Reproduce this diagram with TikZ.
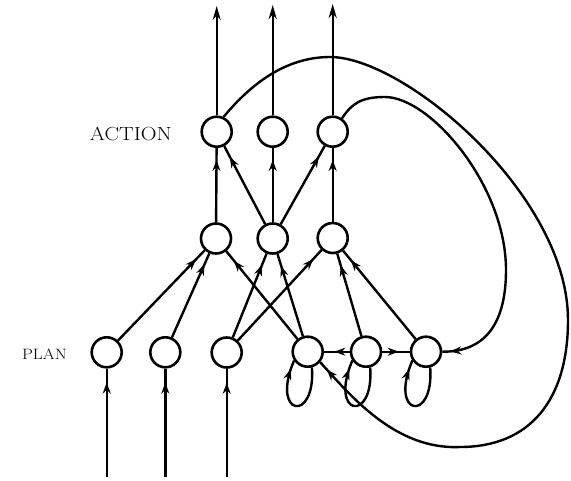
\documentclass[tikz,border=0pt]{standalone}
\usepackage{fontspec}
\usetikzlibrary{arrows.meta,decorations.markings}
\begin{document}
\tikzset{
  unit/.style={circle, draw, line width=2.6pt, minimum size=30pt, inner sep=0pt},
  wire/.style={line width=2.4pt},
  tipnear/.style={wire, postaction={decorate},
    decoration={markings, mark=at position #1 with {\arrow{Stealth[length=11pt,width=8pt]}}}},
  tipnear/.default=-12pt,
  outarrow/.style={wire, -{Stealth[length=14pt,width=8pt]}},
  lbl/.style={anchor=base east, inner sep=0pt}
}
\begin{tikzpicture}[x=1pt,y=-1pt]
\useasboundingbox (0,0) rectangle (571,480);

% action layer
\node[unit] (a1) at (216.7,131.7) {};
\node[unit] (a2) at (272.7,131.7) {};
\node[unit] (a3) at (332.7,131.7) {};
% hidden layer
\node[unit] (h1) at (216,238.5) {};
\node[unit] (h2) at (272.7,238.5) {};
\node[unit] (h3) at (332.7,238) {};
% plan units
\node[unit] (p1) at (106.7,352.3) {};
\node[unit] (p2) at (165.3,352.3) {};
\node[unit] (p3) at (226.7,352.5) {};
% state units
\node[unit] (s1) at (307.7,351.7) {};
\node[unit] (s2) at (366,351.7) {};
\node[unit] (s3) at (426,351.7) {};

% labels
\node[lbl, font=\fontsize{19}{19}\selectfont, xscale=1.15] (actlbl) at (172,140.5) {ACTION};
\node[lbl, font=\fontsize{15}{15}\selectfont, xscale=1.15] (planlbl) at (67,359.5) {PLAN};

% outputs
\coordinate (o1) at (216.7,6);
\coordinate (o2) at (272.7,5);
\coordinate (o3) at (332.7,4);
\draw[outarrow] (a1) -- (o1);
\draw[outarrow] (a2) -- (o2);
\draw[outarrow] (a3) -- (o3);

% plan inputs
\coordinate (i1) at (106.7,477);
\coordinate (i2) at (165.3,477);
\coordinate (i3) at (226.7,477);
\draw[tipnear=-14pt] (i1) -- (p1);
\draw[tipnear=-14pt] (i2) -- (p2);
\draw[tipnear=-14pt] (i3) -- (p3);

% hidden to action
\draw[tipnear] (h1) -- (a1);
\draw[tipnear] (h2) -- (a1);
\draw[tipnear] (h2) -- (a2);
\draw[tipnear] (h2) -- (a3);
\draw[tipnear] (h3) -- (a3);

% plan and state to hidden
\draw[tipnear] (p1) -- (h1);
\draw[tipnear] (p2) -- (h1);
\draw[tipnear] (p3) -- (h2);
\draw[tipnear] (p3) -- (h3);
\draw[tipnear] (s1) -- (h1);
\draw[tipnear] (s1) -- (h2);
\draw[tipnear] (s2) -- (h3);
\draw[tipnear] (s3) -- (h3);

% links between state units
\draw[tipnear=0.6] (s2) -- (s1);
\draw[tipnear=0.6] (s2) -- (s3);

% self loops on state units
\foreach \s in {s1,s2,s3}
  \draw[tipnear=-9pt] (\s.-75) .. controls +(4,56) and +(-24,56) .. (\s.-147);

% recurrent links from action to state
\draw[tipnear=-10pt] (a1.65) .. controls (250,85) and (285,57) .. (330,57)
  .. controls (405,57) and (568,195) .. (568,320)
  .. controls (568,400) and (530,447) .. (460,447)
  .. controls (395,450) and (350,395) .. (s1.-40);
\draw[tipnear=-8pt] (a3.55) .. controls (352,103) and (362,97) .. (385,97)
  .. controls (430,97) and (506,185) .. (506,270)
  .. controls (506,330) and (480,352) .. (s3.east);
\end{tikzpicture}
\end{document}
